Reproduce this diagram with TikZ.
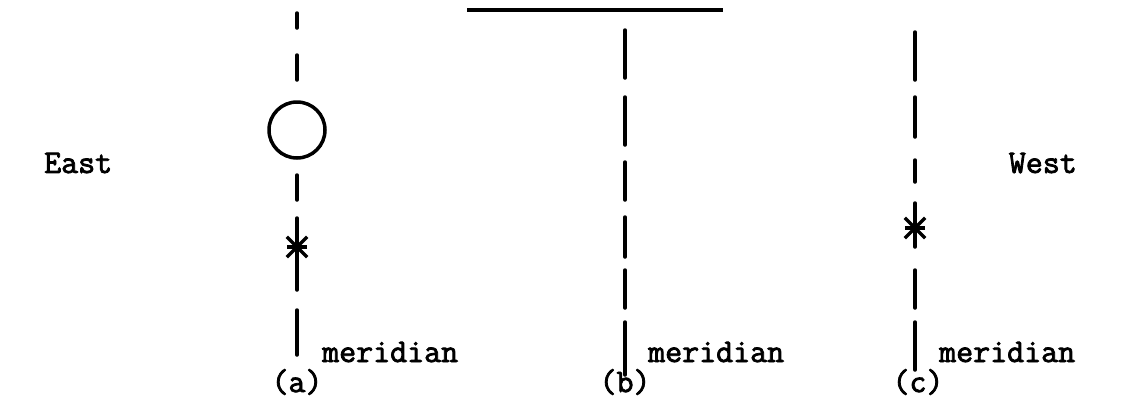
\documentclass[tikz,border=0pt]{standalone}
\usepackage{fontspec}
\newfontfamily\twfont[FakeBold=2.4]{Latin Modern Mono}
\begin{document}
\begin{tikzpicture}[x=1pt,y=-1pt,
  seg/.style={line width=3.5pt,line cap=round},
  lbl/.style={font=\twfont\fontsize{33}{35}\selectfont,inner sep=0pt},
  sun/.style={circle,draw,line width=3.5pt,minimum size=56pt,inner sep=0pt},
  starmark/.style={inner sep=0pt,minimum size=20pt}]
\useasboundingbox (0,0) rectangle (1141,402);
% top horizontal line
\coordinate (hl) at (467,10);
\coordinate (hr) at (723,10);
\draw[line width=3.5pt] (hl) -- (hr);
% (a)
\node[sun] (sunA) at (297,130) {};
\node[starmark] (starA) at (297,247) {};
\foreach \a/\b in {13/28,55/80,175/200,218/240,255/290,310/355}
  \draw[seg] (297,\a) -- (297,\b);
\foreach \ang in {0,45,90,135}
  \draw[line width=3.5pt] (starA.\ang) -- (starA.\ang+180);
% (b)
\foreach \a/\b in {30/78,97/145,162/200,217/257,270/308,322/375}
  \draw[seg] (625,\a) -- (625,\b);
% (c)
\node[starmark] (starC) at (915,228) {};
\foreach \a/\b in {32/80,97/137,160/182,203/247,270/308,322/370}
  \draw[seg] (915,\a) -- (915,\b);
\foreach \ang in {0,45,90,135}
  \draw[line width=3.5pt] (starC.\ang) -- (starC.\ang+180);
% labels
\node[lbl,anchor=base west] (merA) at (322,362) {meridian};
\node[lbl,anchor=base west] (merB) at (648,362) {meridian};
\node[lbl,anchor=base west] (merC) at (939,362) {meridian};
\node[lbl] (labA) at (297,382) {(a)};
\node[lbl] (labB) at (625,382) {(b)};
\node[lbl] (labC) at (918,382) {(c)};
\node[lbl,anchor=west] (east) at (44,163) {East};
\node[lbl,anchor=east] (west) at (1077,163) {West};
\end{tikzpicture}
\end{document}
